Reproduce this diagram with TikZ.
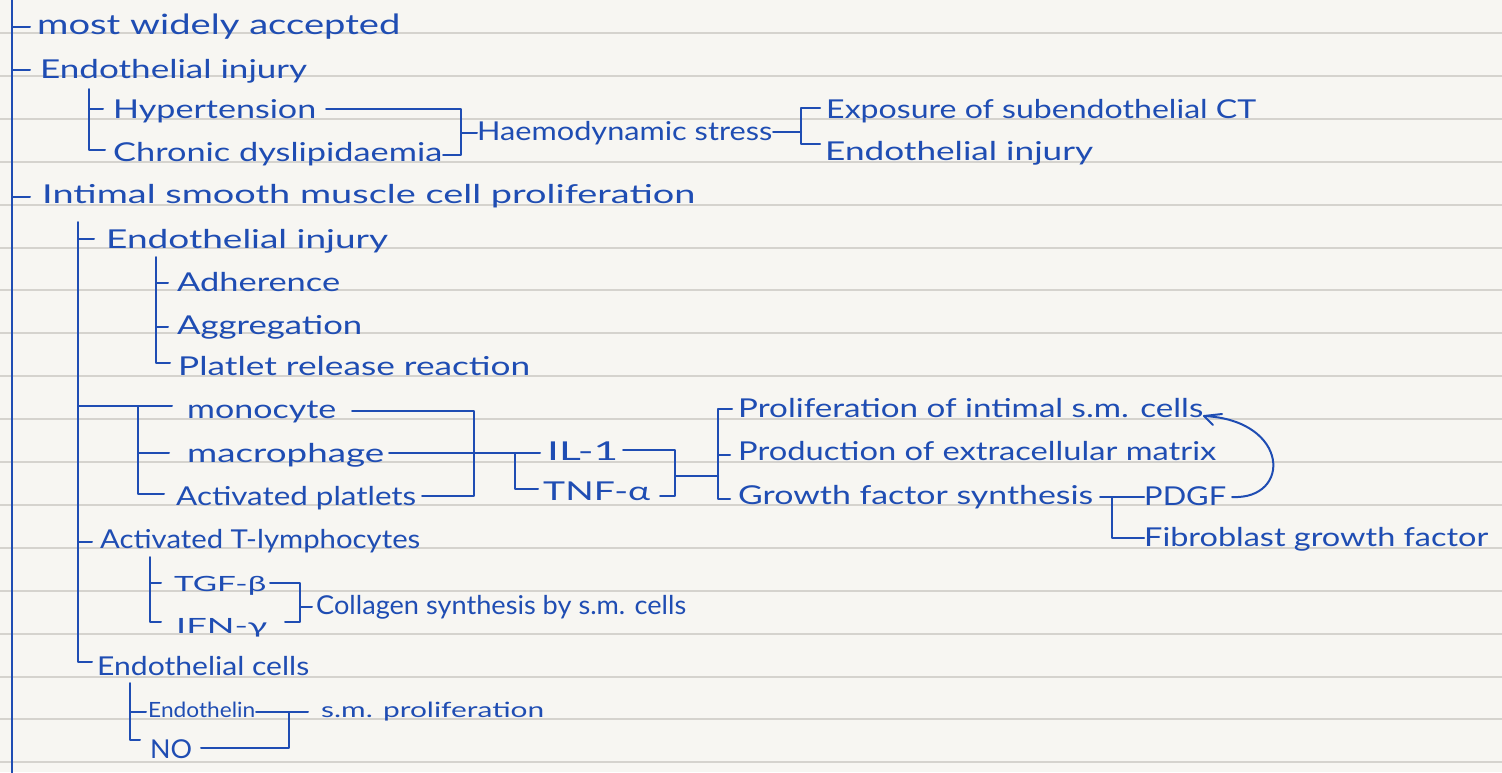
\documentclass[tikz,border=0pt]{standalone}
\usepackage{fontspec}
\setmainfont{Lato}
\usetikzlibrary{arrows.meta}
\definecolor{ink}{HTML}{1F4DB3}
\definecolor{paper}{HTML}{F7F6F2}
\definecolor{ruling}{HTML}{D5D3CE}
% stretch a label horizontally to a given width (in pt), keeping its height
\newcommand\hw[2]{\resizebox{#1pt}{\height}{#2}}

\begin{document}
\begin{tikzpicture}[x=1pt,y=-1pt,
  lbl/.style={anchor=base west,inner sep=0pt,text=ink,font=\fontsize{26}{30}\selectfont},
  big/.style={lbl,font=\fontsize{28}{32}\selectfont},
  small/.style={lbl,font=\fontsize{21}{25}\selectfont},
  wire/.style={draw=ink,line width=2pt,line cap=round,line join=round},
  ruled/.style={draw=ruling,line width=2pt},
]
\useasboundingbox (0,0) rectangle (1502,772);
\fill[paper] (0,0) rectangle (1502,772);

% ruled paper
\foreach \k in {0,...,17}
  \draw[ruled] (0,33+42.9*\k) -- (1502,33+42.9*\k);

% margin line
\path (12,-4) coordinate (mtop) (12,776) coordinate (mbot);
\draw[wire,line width=2.4pt] (mtop) -- (mbot);

% ---------------- labels ----------------
\node[big] (t1)   at (37,34)   {\hw{363}{most widely accepted}};
\node[lbl] (t2)   at (40,78)   {\hw{267}{Endothelial injury}};
\node[lbl] (hyp)  at (113,118) {\hw{203}{Hypertension}};
\node[lbl] (cdys) at (113,161) {\hw{329}{Chronic dyslipidaemia}};
\node[lbl] (hst)  at (477,140) {\hw{295}{Haemodynamic stress}};
\node[lbl] (expo) at (826,118) {\hw{430}{Exposure of subendothelial CT}};
\node[lbl] (endR) at (825,160) {\hw{268}{Endothelial injury}};
\node[lbl] (imsc) at (42,203)  {\hw{653}{Intimal smooth muscle cell proliferation}};
\node[lbl] (end2) at (106,248) {\hw{282}{Endothelial injury}};
\node[lbl] (adh)  at (177,291) {\hw{163}{Adherence}};
\node[lbl] (agg)  at (177,334) {\hw{185}{Aggregation}};
\node[lbl] (prr)  at (178,375) {\hw{352}{Platlet release reaction}};
\node[lbl] (mono) at (187,418) {\hw{149}{monocyte}};
\node[lbl] (macr) at (187,462) {\hw{197}{macrophage}};
\node[lbl] (actp) at (176,505) {\hw{240}{Activated platlets}};
\node[lbl] (il1)  at (547,460) {\hw{71}{IL-1}};
\node[lbl] (tnf)  at (543,500) {\hw{107}{TNF-α}};
\node[lbl] (prol) at (738,417) {\hw{465}{Proliferation of intimal s.m. cells}};
\node[lbl] (prod) at (738,460) {\hw{478}{Production of extracellular matrix}};
\node[lbl] (gfs)  at (738,504) {\hw{355}{Growth factor synthesis}};
\node[lbl] (pdgf) at (1144,505) {\hw{82}{PDGF}};
\node[lbl] (fgf)  at (1144,546) {\hw{344}{Fibroblast growth factor}};
\node[lbl] (actT) at (100,548) {\hw{320}{Activated T-lymphocytes}};
\node[small] (tgf) at (174,591) {\hw{92}{TGF-β}};
\node[small] (ifn) at (176,633) {\hw{91}{IFN-γ}};
\node[lbl] (coll) at (316,614) {\hw{370}{Collagen synthesis by s.m. cells}};
\node[lbl] (endc) at (97,675)  {\hw{212}{Endothelial cells}};
\node[small] (endn) at (148,717) {\hw{107}{Endothelin}};
\node[lbl] (no)   at (150,758) {\hw{42}{NO}};
\node[small] (smp) at (321,717) {\hw{223}{s.m. proliferation}};

% ---------------- connectors ----------------
% ticks off the margin
\draw[wire] (mtop |- 0,27)  -- (30,27);
\draw[wire] (mtop |- 0,70)  -- (30,70);
\draw[wire] (mtop |- 0,197) -- (30,197);

% Hypertension / Chronic dyslipidaemia
\path (89,89) coordinate (hbT) (89,150) coordinate (hbB);
\draw[wire] (hbT) -- (hbB) -- ++(16,0);
\draw[wire] (hbT |- 0,109) -- ++(14,0);
\path (326,109) coordinate (hypR) (461,109) coordinate (hjT)
      (461,155) coordinate (hjB) (443,155) coordinate (cdR);
\draw[wire] (hypR) -- (hjT) -- (hjB) -- (cdR);
\draw[wire] (hjT |- 0,133) -- (hst.west |- 0,133);

% Haemodynamic stress -> two outcomes
\path (773,132) coordinate (hstR) (801,108) coordinate (sbT) (801,144) coordinate (sbB);
\draw[wire] (hstR) -- (sbT |- hstR);
\draw[wire] (sbT) ++(19,0) -- (sbT) -- (sbB) -- ++(19,0);

% main spine of intimal proliferation
\path (78,222) coordinate (spT) (78,662) coordinate (spB);
\draw[wire] (spT) -- (spB) -- ++(14,0);
\draw[wire] (spT |- 0,239) -- ++(16,0);
\draw[wire] (spT |- 0,542) -- ++(14,0);

% platelet responses
\path (156,257) coordinate (pbT) (156,363) coordinate (pbB);
\draw[wire] (pbT) -- (pbB) -- ++(14,0);
\draw[wire] (pbT |- 0,283) -- ++(12,0);
\draw[wire] (pbT |- 0,327) -- ++(12,0);

% monocyte / macrophage / activated platelets
\path (138,406) coordinate (cbT) (138,494) coordinate (cbB);
\draw[wire] (spT |- cbT) -- (172,406);
\draw[wire] (cbT) -- (cbB) -- ++(26,0);
\draw[wire] (cbT |- 0,453) -- ++(31,0);
\path (352,411) coordinate (monoR) (474,411) coordinate (mjT)
      (474,496) coordinate (mjB) (422,496) coordinate (actR);
\draw[wire] (monoR) -- (mjT) -- (mjB) -- (actR);
\path (389,453) coordinate (macR) (540,453) coordinate (ilL) (515,489) coordinate (ibB);
\draw[wire] (macR) -- (ilL);
\draw[wire] (ibB |- macR) -- (ibB) -- ++(23,0);

% IL-1 / TNF-alpha -> effects
\path (623,450) coordinate (ilR) (675,450) coordinate (ijT)
      (675,496) coordinate (ijB) (660,496) coordinate (tnfR);
\draw[wire] (ilR) -- (ijT) -- (ijB) -- (tnfR);
\path (718,409) coordinate (ebT) (718,499) coordinate (ebB);
\draw[wire] (ijT |- 0,476) -- (ebT |- 0,476);
\draw[wire] (ebT) ++(14,0) -- (ebT) -- (ebB) -- ++(12,0);
\draw[wire] (ebT |- 0,455) -- ++(12,0);

% growth factors
\path (1100,497) coordinate (gfsR) (1112,538) coordinate (gbB);
\draw[wire] (gfsR) -- (pdgf.west |- gfsR);
\draw[wire] (gbB |- gfsR) -- (gbB) -- (fgf.west |- gbB);

% PDGF feeds back to proliferation
\path (1232,497) coordinate (pdgfR) (1204,416) coordinate (tip);
\draw[wire] (pdgfR) .. controls (1292,500) and (1290,420) .. (tip);
\draw[wire] (1222,414) -- (tip) -- (1213,425);

% T-lymphocyte products
\path (150,557) coordinate (tbT) (150,622) coordinate (tbB);
\draw[wire] (tbT) -- (tbB) -- ++(11,0);
\draw[wire] (tbT |- 0,583) -- ++(11,0);
\path (270,583) coordinate (tgfR) (300,583) coordinate (tjT)
      (300,622) coordinate (tjB) (285,622) coordinate (ifnR);
\draw[wire] (tgfR) -- (tjT) -- (tjB) -- (ifnR);
\draw[wire] (tjT |- 0,607) -- ++(12,0);

% endothelial cell products
\path (130,683) coordinate (nbT) (130,740) coordinate (nbB);
\draw[wire] (nbT) -- (nbB) -- ++(10,0);
\draw[wire] (nbT |- 0,712) -- ++(16,0);
\path (256,712) coordinate (enR) (308,712) coordinate (enE)
      (289,748) coordinate (njB) (201,748) coordinate (noR);
\draw[wire] (enR) -- (enE);
\draw[wire] (njB |- enR) -- (njB) -- (noR);
\end{tikzpicture}
\end{document}
